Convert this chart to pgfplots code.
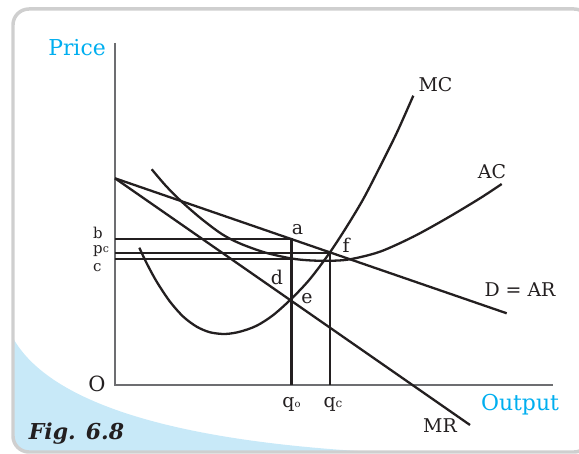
\documentclass[border=0pt]{standalone}
\usepackage{fontspec}
\setmainfont{DejaVu Serif}
\usepackage{pgfplots}
\pgfplotsset{compat=1.18}
\definecolor{cyantext}{HTML}{00AEEF}
\definecolor{swoosh}{HTML}{C8E9F8}
\definecolor{axisgray}{HTML}{6D6E71}
\definecolor{ink}{HTML}{231F20}
\definecolor{framegray}{HTML}{CFCFCF}
\pgfplotsset{curve/.style={ink, line width=2.3bp, no markers}}

\begin{document}
\begin{tikzpicture}[x=1bp,y=1bp,
    lbl/.style={font=\fontsize{19}{19}\selectfont, text=ink, inner sep=0pt},
    small/.style={font=\fontsize{15}{15}\selectfont, text=ink, inner sep=0pt}]
\useasboundingbox (0,0) rectangle (579,454);
% panel background: frame and light blue swoosh
\begin{scope}
  \clip[rounded corners=16] (13,2) rectangle (590,445);
  \fill[swoosh] (13,116) .. controls (50,50) and (180,8) .. (420,0) -- (0,0) -- cycle;
\end{scope}
\draw[framegray, line width=3.5, rounded corners=16] (13,2) rectangle (590,445);
\node[font=\bfseries\itshape\fontsize{22}{22}\selectfont, text=ink] at (76.5,20) {Fig. 6.8};

\begin{axis}[
    at={(115,69)}, anchor=south west,
    scale only axis, width=440bp, height=345bp,
    xmin=0, xmax=440, ymin=0, ymax=345,
    hide axis, clip=false,
]
% axes
\addplot[axisgray, line width=2.6bp, no markers] coordinates {(0,342) (0,0) (438,0)};

% price levels b, p_c, c and outputs q0, qc
\addplot[curve] coordinates {(0,146) (176.5,146) (176.5,0)};
\addplot[curve] coordinates {(0,132.3) (215,132.3) (215,0)};
\addplot[curve] coordinates {(0,126.3) (176.5,126.3)};

% D = AR
\addplot[curve] coordinates {(0,206.7) (391.7,71.7)};
% MR
\addplot[curve] coordinates {(0,206.7) (355,-40)};

% MC
\addplot[curve, smooth] coordinates {
  (24.3,137.3) (31.7,121.7) (41.7,103.3) (55,83.3) (68.3,68.3) (81.7,58.3)
  (95,52.7) (110,51) (125,53.3) (141.7,59.3) (158.3,70) (176.7,86.5)
  (195,106) (214.5,132) (231.7,158.3) (248.3,186) (265,218.3) (281.7,252)
  (298.3,289.3)};

% AC
\addplot[curve, smooth] coordinates {
  (36.7,215.7) (51,199) (66.7,183.3) (86,166.5) (106.7,151) (125,141.5)
  (150,132.5) (176.5,126.5) (195,124.6) (215,124.2) (235,125.7) (265,133.3)
  (298.3,148.3) (331.7,166.7) (365,186.7) (386.7,201)};

% labels
\node[font=\fontsize{22}{22}\selectfont, text=cyantext] at (axis cs:-38,337) {Price};
\node[font=\fontsize{22}{22}\selectfont, text=cyantext] at (axis cs:405,-20) {Output};
\node[lbl] at (axis cs:320.5,300) {MC};
\node[lbl] at (axis cs:377,213) {AC};
\node[lbl] at (axis cs:405,95) {D = AR};
\node[lbl] at (axis cs:325,-41) {MR};
\node[font=\fontsize{21}{21}\selectfont, text=ink, inner sep=0pt] at (axis cs:-18,1) {O};
\node[small, anchor=base west] at (axis cs:-22,146.5) {b};
\node[small, anchor=base west] at (axis cs:-22,131.5) {p\raisebox{1bp}{\fontsize{11}{11}\selectfont c}};
\node[small, anchor=base west] at (axis cs:-22,113) {c};
\node[lbl] at (axis cs:182.5,155) {a};
\node[lbl] at (axis cs:231,140) {f};
\node[lbl] at (axis cs:162,108) {d};
\node[lbl] at (axis cs:192,86) {e};
\node[lbl, anchor=base] at (axis cs:176.5,-23) {q{\fontsize{10}{10}\selectfont o}};
\node[lbl, anchor=base] at (axis cs:218,-23) {q{\fontsize{12}{12}\selectfont c}};
\end{axis}
\end{tikzpicture}
\end{document}
